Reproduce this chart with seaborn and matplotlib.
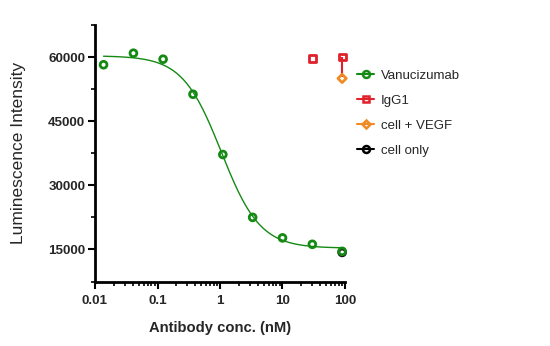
import numpy as np
import pandas as pd
import matplotlib
matplotlib.use("Agg")
import matplotlib.pyplot as plt
from matplotlib.lines import Line2D
from matplotlib.ticker import FixedLocator, LogLocator, NullFormatter
import seaborn as sns

# Antibody dilution series (nM) and luminescence readouts
conc = [0.0137, 0.0412, 0.123, 0.370, 1.11, 3.33, 10.0, 30.0, 90.0]
vanucizumab = [58200, 60900, 59500, 51300, 37200, 22500, 17700, 16200, 14550]

igg1_conc = [30.0, 90.0]
igg1 = [59700, 60000]
igg1_err_low = [0, 4600]

vegf_conc = [90.0]
cell_vegf = [55000]

cell_only_conc = [90.0]
cell_only = [14300]

# Four-parameter logistic fit parameters for the Vanucizumab curve
fit_top, fit_bottom, fit_ic50, fit_hill = 60300, 15300, 1.05, 1.4

x_ticks = [0.01, 0.1, 1, 10, 100]
x_tick_labels = ["0.01", "0.1", "1", "10", "100"]
y_ticks = [15000, 30000, 45000, 60000]

green = "#148a14"
red = "#e0202a"
orange = "#f08a24"

sns.set_style("white")
plt.rcParams["font.family"] = ["Liberation Sans", "DejaVu Sans"]

fig = plt.figure(figsize=(5.5, 3.46), dpi=100)
ax = fig.add_axes([95 / 550, 1 - 281.5 / 346, 250 / 550, 256.5 / 346])

# fitted curve
xs = np.logspace(np.log10(0.0137), np.log10(90), 300)
ys = fit_bottom + (fit_top - fit_bottom) / (1 + (xs / fit_ic50) ** fit_hill)
curve = pd.DataFrame({"conc": xs, "signal": ys})
sns.lineplot(data=curve, x="conc", y="signal", ax=ax, color=green, lw=1.0)

pts = pd.DataFrame({"conc": conc, "signal": vanucizumab})
sns.scatterplot(data=pts, x="conc", y="signal", ax=ax, marker="o", s=24,
                facecolor="none", edgecolor=green, linewidth=2, zorder=4,
                clip_on=False)

# IgG1 control with lower error bar
eb = ax.errorbar(igg1_conc, igg1, yerr=[igg1_err_low, [0] * len(igg1)], fmt="none",
                 ecolor=red, elinewidth=1.5, capsize=0, zorder=3)
for art in eb.lines[2]:
    art.set_clip_on(False)
sns.scatterplot(x=igg1_conc, y=igg1, ax=ax, marker="s", s=24,
                facecolor="none", edgecolor=red, linewidth=2, zorder=5,
                clip_on=False)

sns.scatterplot(x=vegf_conc, y=cell_vegf, ax=ax, marker="D", s=18,
                facecolor="none", edgecolor=orange, linewidth=2, zorder=5,
                clip_on=False)
sns.scatterplot(x=cell_only_conc, y=cell_only, ax=ax, marker="o", s=24,
                facecolor="none", edgecolor="#111111", linewidth=2, zorder=3,
                clip_on=False)

ax.set_xscale("log")
ax.set_xlim(0.01, 100)
ax.set_ylim(7500, 67500)
ax.set_xticks(x_ticks)
ax.set_xticklabels(x_tick_labels)
ax.xaxis.set_minor_locator(LogLocator(base=10, subs=np.arange(2, 10)))
ax.xaxis.set_minor_formatter(NullFormatter())
ax.set_yticks(y_ticks)
ax.set_yticklabels([str(v) for v in y_ticks])
ax.yaxis.set_minor_locator(FixedLocator([7500, 22500, 37500, 52500, 67500]))

for side in ["top", "right"]:
    ax.spines[side].set_visible(False)
for side in ["left", "bottom"]:
    ax.spines[side].set_linewidth(2)
    ax.spines[side].set_color("black")

ax.tick_params(axis="both", which="major", length=5, width=1.5, color="black",
               labelsize=9.6, bottom=True, left=True)
ax.tick_params(axis="x", which="major", pad=5)
ax.tick_params(axis="y", which="major", pad=2)
ax.tick_params(axis="both", which="minor", length=3, width=1.2, color="black",
               bottom=True, left=True)
for lbl in ax.get_xticklabels() + ax.get_yticklabels():
    lbl.set_fontweight("bold")

ax.set_xlabel("Antibody conc. (nM)", fontsize=10.6, fontweight="bold", labelpad=10)
ax.set_ylabel("Luminescence Intensity", fontsize=12.5, labelpad=16)

handles = [
    Line2D([], [], color=green, lw=1.5, marker="o", ms=5, mfc="none", mew=1.8),
    Line2D([], [], color=red, lw=1.5, marker="s", ms=5, mfc="none", mew=1.8),
    Line2D([], [], color=orange, lw=1.5, marker="D", ms=4, mfc="none", mew=1.8),
    Line2D([], [], color="black", lw=1.5, marker="o", ms=5, mfc="none", mew=1.8),
]
labels = ["Vanucizumab", "IgG1", "cell + VEGF", "cell only"]
fig.legend(handles, labels, loc="upper left", bbox_to_anchor=(352 / 550, 1 - 64 / 346),
           frameon=False, fontsize=9.5, handlelength=1.3, handletextpad=0.5,
           labelspacing=0.98, borderaxespad=0)

fig.savefig("out.png", dpi=100)
